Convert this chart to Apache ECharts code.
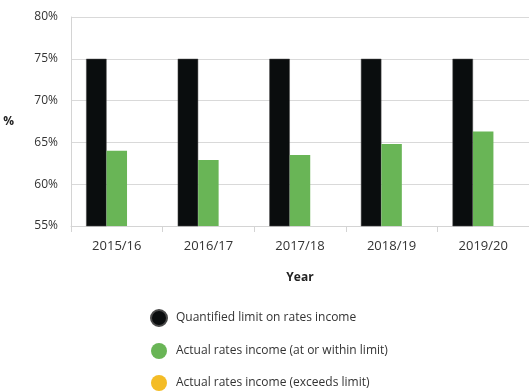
<!DOCTYPE html>
<html>
<head>
<meta charset="utf-8">
<script src="https://cdn.jsdelivr.net/npm/echarts@6/dist/echarts.min.js"></script>
<style>
  html, body { margin: 0; padding: 0; background: #ffffff; }
  #chart { width: 529px; height: 391px; }
</style>
</head>
<body>
<div id="chart"></div>
<script>
// Rates income against the quantified limit, by financial year (%)
const years = ['2015/16', '2016/17', '2017/18', '2018/19', '2019/20'];
const quantifiedLimit = [75, 75, 75, 75, 75];
const actualWithinLimit = [64.0, 62.9, 63.5, 64.8, 66.3];
const actualExceedsLimit = [null, null, null, null, null];
const yTicks = { min: 55, max: 80, step: 5 };

const FONT = '"Open Sans", "Noto Sans", sans-serif';
const chart = echarts.init(document.getElementById('chart'), null, { renderer: 'canvas' });

chart.setOption({
  animation: false,
  textStyle: { fontFamily: FONT },
  grid: { left: 71, right: 0, top: 17, bottom: 165, containLabel: false },
  legend: {
    orient: 'vertical',
    left: 150,
    top: 309,
    height: 100,
    padding: 0,
    icon: 'circle',
    itemWidth: 16,
    itemHeight: 16,
    itemGap: 16,
    textStyle: { fontFamily: FONT, fontSize: 12, color: '#333333', padding: [0, 0, 0, 4] },
    data: ['Quantified limit on rates income', 'Actual rates income (at or within limit)', 'Actual rates income (exceeds limit)']
  },
  xAxis: {
    type: 'category',
    data: years,
    name: 'Year',
    nameLocation: 'middle',
    nameGap: 46,
    nameTextStyle: { fontFamily: FONT, fontSize: 12, fontWeight: 'bold', color: '#222222' },
    axisLine: { show: true, lineStyle: { color: '#d4d4d4', width: 1 } },
    axisTick: { show: true, length: 6, lineStyle: { color: '#d4d4d4' } },
    axisLabel: { margin: 14, fontSize: 13, color: '#333333', fontFamily: FONT }
  },
  yAxis: {
    type: 'value',
    min: yTicks.min,
    max: yTicks.max,
    interval: yTicks.step,
    name: '%',
    nameLocation: 'middle',
    nameRotate: 0,
    nameGap: 57,
    nameTextStyle: { fontFamily: FONT, fontSize: 12, fontWeight: 'bold', color: '#222222' },
    axisLine: { show: true, lineStyle: { color: '#d4d4d4', width: 1 } },
    axisTick: { show: false },
    axisLabel: { formatter: '{value}%', margin: 13, fontSize: 12, color: '#333333', fontFamily: FONT },
    splitLine: { show: true, lineStyle: { color: '#d9d9d9', width: 1 } }
  },
  series: [
    {
      name: 'Quantified limit on rates income',
      type: 'bar',
      data: quantifiedLimit,
      barGap: '0%',
      barCategoryGap: '33%',
      itemStyle: { color: '#0a0d0e', borderColor: '#4a4a4a', borderWidth: 0.5 }
    },
    {
      name: 'Actual rates income (at or within limit)',
      type: 'bar',
      data: actualWithinLimit,
      barGap: '0%',
      barCategoryGap: '33%',
      itemStyle: { color: '#69b556' }
    },
    {
      name: 'Actual rates income (exceeds limit)',
      type: 'bar',
      data: actualExceedsLimit,
      barGap: '0%',
      barCategoryGap: '33%',
      itemStyle: { color: '#f4bc26' }
    }
  ]
});
</script>
</body>
</html>
